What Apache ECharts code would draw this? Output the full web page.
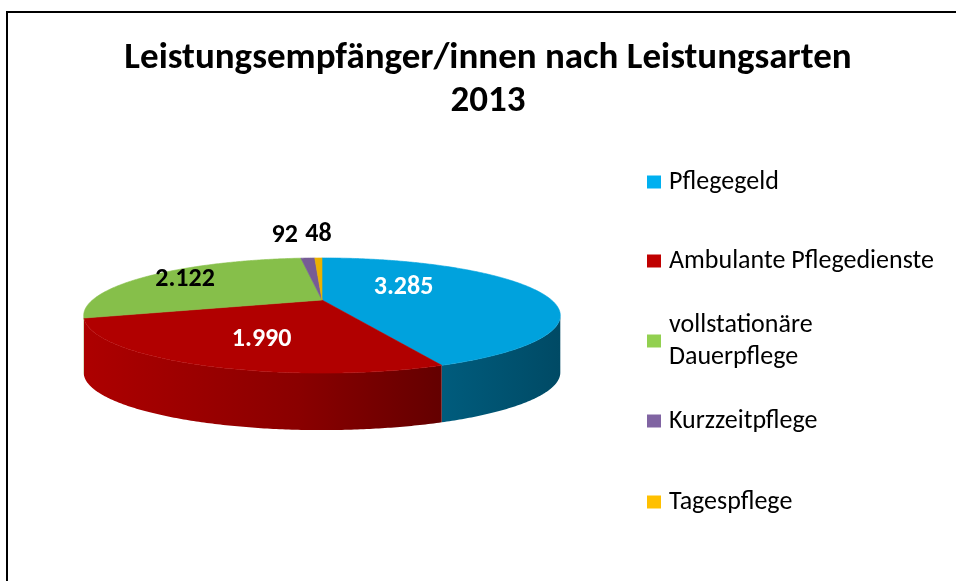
<!DOCTYPE html>
<html><head><meta charset="utf-8">
<script src="https://cdn.jsdelivr.net/npm/echarts@6/dist/echarts.min.js"></script>
<style>html,body{margin:0;padding:0;background:#fff}#c{width:956px;height:581px}</style>
</head><body><div id="c"></div>
<script>
// ---- data ----
const titleLines = ['Leistungsempfänger/innen nach Leistungsarten', '2013'];
const categories = ['Pflegegeld', 'Ambulante Pflegedienste', 'vollstationäre\nDauerpflege', 'Kurzzeitpflege', 'Tagespflege'];
const values = [3285, 1990, 2122, 92, 48];
const colors = ['#00B0F0', '#C00000', '#92D050', '#8064A2', '#FFC000'];

// ---- style / geometry (rendering only) ----
const FONT = 'Carlito, Lato, "Open Sans", sans-serif';
const CX = 322, CY = 300, F = 828, SA = 0.2327, CA = 0.9725, D = 3.608, DEPTH = 57;
// label placement: radial factor, pixel offsets, align, colour
const labelStyle = [
  {r: 0.37, dx: 0, dy: -9, align: 'center', color: '#fff'},
  {r: 0.55, dx: 0, dy: 9, align: 'center', color: '#fff'},
  {r: 0.79, dx: 0, dy: 0, align: 'center', color: '#000'},
  {r: 1.0, dx: -10, dy: -23, align: 'right', color: '#000'},
  {r: 1.0, dx: 0, dy: -23, align: 'center', color: '#000'}
];
const legendCenters = [182, 261, 341, 421, 502];

function fmt(v) { return String(v).replace(/\B(?=(\d{3})+(?!\d))/g, '.'); }
function proj(t, r) {
  const u = r * Math.sin(t), v = -r * Math.cos(t);
  const z = D - v * CA;
  return [CX + F * u / z, CY + F * v * SA / z];
}
function shade(hex, f) {
  const n = parseInt(hex.slice(1), 16);
  const c = [(n >> 16) & 255, (n >> 8) & 255, n & 255].map(x => Math.max(0, Math.min(255, Math.round(x * f))));
  return 'rgb(' + c.join(',') + ')';
}
// silhouette angles (leftmost / rightmost rim points)
let thR = 0, thL = 0, maxX = -1e9, minX = 1e9;
for (let k = 0; k <= 3600; k++) {
  const t = k / 3600 * Math.PI * 2, p = proj(t, 1);
  if (p[0] > maxX) { maxX = p[0]; thR = t; }
  if (p[0] < minX) { minX = p[0]; thL = t; }
}
const total = values.reduce((a, b) => a + b, 0);
const starts = [];
let acc = 0;
values.forEach(v => { starts.push(acc / total * Math.PI * 2); acc += v; });

function makeRender(i) {
  return function (params, api) {
    const a0 = starts[i], a1 = a0 + api.value(0) / total * Math.PI * 2;
    const children = [];
    const s0 = Math.max(a0, thR), s1 = Math.min(a1, thL);
    if (s1 > s0) {
      const n = Math.max(2, Math.ceil((s1 - s0) / 0.01));
      const pts = [];
      for (let k = 0; k <= n; k++) pts.push(proj(s0 + (s1 - s0) * k / n, 1));
      const bot = pts.map(p => [p[0], p[1] + DEPTH]).reverse();
      children.push({
        type: 'polygon', z2: 1,
        shape: {points: pts.concat(bot)},
        style: {
          fill: {type: 'linear', global: true, x: minX, y: 0, x2: maxX, y2: 0,
            colorStops: [{offset: 0, color: shade(colors[i], 0.9)}, {offset: 0.45, color: shade(colors[i], 0.72)},
                         {offset: 0.75, color: shade(colors[i], 0.52)}, {offset: 1, color: shade(colors[i], 0.42)}]},
          stroke: null
        }
      });
    }
    const n = Math.max(2, Math.ceil((a1 - a0) / 0.01));
    const top = [[CX, CY]];
    for (let k = 0; k <= n; k++) top.push(proj(a0 + (a1 - a0) * k / n, 1));
    const topCol = shade(colors[i], 0.92);
    children.push({type: 'polygon', z2: 2, shape: {points: top}, style: {fill: topCol, stroke: topCol, lineWidth: 0.6}});
    const ls = labelStyle[i];
    const lp = proj((a0 + a1) / 2, ls.r);
    children.push({
      type: 'text', z2: 5,
      x: lp[0] + ls.dx, y: lp[1] + ls.dy,
      style: {text: fmt(api.value(0)), fill: ls.color, font: 'bold 26px ' + FONT, align: ls.align, verticalAlign: 'middle'}
    });
    return {type: 'group', children: children};
  };
}

const chart = echarts.init(document.getElementById('c'), null, {renderer: 'canvas'});
chart.setOption({
  animation: false,
  backgroundColor: '#fff',
  title: {
    text: titleLines.join('\n'), left: 488, top: 37, textAlign: 'center', padding: 0,
    textStyle: {fontFamily: FONT, fontWeight: 'bold', fontSize: 37, lineHeight: 43, color: '#000'}
  },
  legend: categories.map((name, i) => {
    const multi = name.indexOf('\n') >= 0;
    return {
      data: [name], orient: 'vertical', left: 647, top: multi ? legendCenters[i] - 48 : legendCenters[i] - 16,
      padding: 0, itemWidth: 14, itemHeight: 13, icon: 'rect', selectedMode: false,
      textStyle: {fontFamily: FONT, fontSize: 26, color: '#000', lineHeight: 32, padding: multi ? [32, 0, 0, 3] : [0, 0, 0, 3]}
    };
  }),
  graphic: [{type: 'rect', silent: true, shape: {x: 7, y: 12, width: 1000, height: 1000}, style: {fill: 'none', stroke: '#000', lineWidth: 2}}],
  series: categories.map((name, i) => ({
    type: 'custom', name: name, coordinateSystem: 'none', silent: true,
    itemStyle: {color: colors[i]},
    renderItem: makeRender(i),
    data: [[values[i]]]
  }))
});
</script></body></html>
